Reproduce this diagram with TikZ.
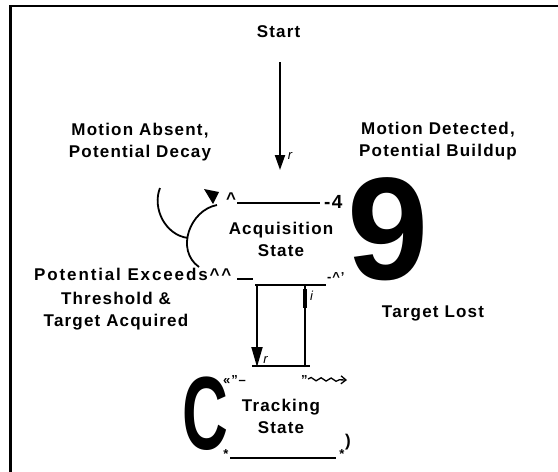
\documentclass[tikz,border=0pt]{standalone}
\usepackage{fontspec}
\setmainfont{Liberation Sans}[LetterSpace=7]
\newfontfamily\plainf{Liberation Sans}
\usetikzlibrary{arrows.meta,decorations.pathmorphing}
\begin{document}
\begin{tikzpicture}[x=1pt,y=-1pt,
  lbl/.style={inner sep=0pt, align=center, font=\bfseries\fontsize{17}{22}\selectfont},
  sm/.style={inner sep=0pt, font=\bfseries\fontsize{13}{15}\selectfont},
  itl/.style={inner sep=0pt, font=\itshape\fontsize{13}{15}\selectfont},
  bigch/.style={inner sep=0pt, font=\plainf\bfseries\fontsize{146}{146}\selectfont},
  ln/.style={line width=1.8pt},
  frame/.style={line width=2.2pt}]
\useasboundingbox (0,0) rectangle (558,472);
% frame
\draw[frame] (10.5,472) -- (10.5,6) -- (558,6);

% labels
\node[lbl] (start) at (278.5,32) {Start};
\node[lbl] (ma) at (140,142) {Motion Absent,\\Potential Decay};
\node[lbl] (md) at (438,141) {Motion Detected,\\Potential Buildup};
\node[lbl] (acq) at (281,239) {Acquisition\\State};
\node[lbl] (trk) at (281,416) {Tracking\\State};
\node[lbl] (th) at (116,310.75) {Threshold \&\\Target Acquired};
\node[lbl] (tl) at (433,313.75) {Target Lost};
\node[lbl, anchor=west] (pe) at (34,274) {\addfontfeatures{LetterSpace=11}Potential Exceeds\textasciicircum\textasciicircum};

% start arrow
\coordinate (s1) at (280,62);
\coordinate (s2) at (280,170);
\draw[line width=2pt, -{Triangle[width=10pt,length=15pt]}] (s1) -- (s2);
\node[itl, anchor=base] (r1) at (290,159) {r};

% acquisition top garble
\fill (204,189) -- (219,192) -- (213,204) -- cycle;
\node[lbl, anchor=base] (car) at (231,204.4) {\textasciicircum};
\coordinate (t1) at (237,203);
\coordinate (t2) at (320,203);
\draw[line width=2pt] (t1) -- (t2);
\node[inner sep=0pt, anchor=base west, font=\bfseries\fontsize{19}{22}\selectfont] (m4) at (324,208) {-4};
\node[bigch] (nine) at (388.5,229) {9};

% left curves
\draw[ln] (160,188) .. controls (152,208) and (165,235) .. (188,238);
\draw[ln] (217,205) .. controls (190,210) and (175,250) .. (199,267);

% lower-right garble of acquisition
\draw[ln] (237,279) -- (253,279);
\node[sm, anchor=base west] (g2) at (327,281.5) {-\textasciicircum'};

% rectangle connectors
\coordinate (b1) at (257,285);
\coordinate (b2) at (257,367);
\coordinate (b3) at (305,367);
\coordinate (b4) at (305,285);
\draw[ln] (255,285) -- (326,285);
\draw[ln] (252,366) -- (310,366);
\draw[ln, -{Triangle[width=11pt,length=20pt]}] (b1) -- (b2);
\draw[ln] (b3) -- (b4);
\draw[line width=4.5pt] (305,289) -- (305,308);
\node[itl, anchor=base] (r2) at (265.5,363) {r};
\node[itl, anchor=base] (i1) at (311.5,300) {i};

% tracking garble
\node[sm, anchor=base west] (g3) at (223,384) {«"–};
\node[sm, anchor=base west] (g4) at (301,384) {"};
\coordinate (w1) at (308,379);
\coordinate (w2) at (347,380);
\draw[line width=1.3pt, decorate, decoration={snake,amplitude=1.6pt,segment length=10pt,post length=7pt}, -{Straight Barb[length=5pt,width=8pt]}] (w1) -- (w2);
\node[inner sep=0pt] (cc) at (205,413.5) {\plainf\bfseries\fontsize{104}{104}\selectfont\scalebox{0.61}[1]{C}};
\node[sm, anchor=base] (st1) at (226,458) {*};
\node[sm, anchor=base] (st2) at (342,458) {*};
\draw[line width=2pt] (230,458) -- (336,458);
\node[lbl, anchor=base] (par) at (348,446) {)};
\end{tikzpicture}
\end{document}
